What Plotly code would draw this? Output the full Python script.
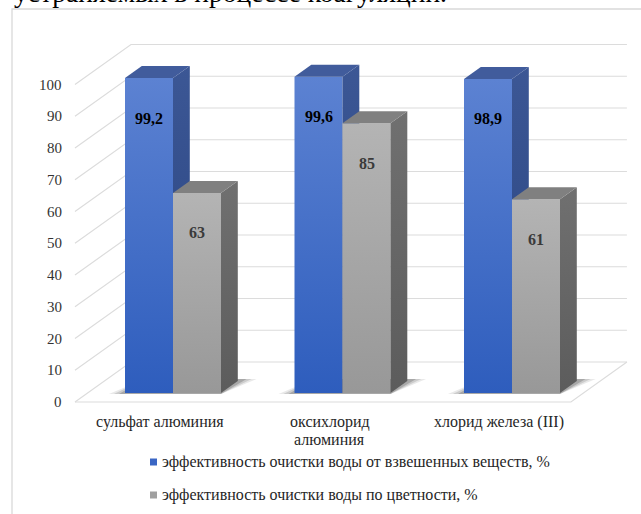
import plotly.graph_objects as go

# ---- data -------------------------------------------------------------
heading = "устраняемых в процессе коагуляции."
categories = ["сульфат алюминия", "оксихлорид\nалюминия", "хлорид железа (III)"]
series_names = [
    "эффективность очистки воды от взвешенных веществ, %",
    "эффективность очистки воды по цветности, %",
]
suspended_solids = [99.2, 99.6, 98.9]
colour_removal = [63, 85, 61]
y_ticks = [0, 10, 20, 30, 40, 50, 60, 70, 80, 90, 100]

# ---- canvas / pseudo-3D geometry ----------------------------------------
W, H = 641, 514
PX_PER_CAT = 169.5      # pixels between category centres
PX_PER_PCT = 3.175      # pixels per percent on the bar plane
ORIGIN_X = 173          # pixel of the first category centre
ORIGIN_Y = 393          # pixel of 0 % on the bar plane
BAR_W = 48 / PX_PER_CAT
BAR_DEPTH = 12          # depth of a bar, in px of vertical rise
D_FRONT, D_BACK = -9, 31
X_LEFT, X_RIGHT = -0.504, 2.422
DX = 1.4 / PX_PER_CAT   # oblique shift per px of depth
DY = 1.0 / PX_PER_PCT


def proj(x, v, d):
    return x + d * DX, v + d * DY


def px_x(n):
    return n / PX_PER_CAT


def px_y(n):
    return n / PX_PER_PCT


def paper_y(px):
    return 1 - px / H


FONT = "Liberation Serif"

styles = [
    dict(front=["#2e5dbd", "#5c82d2"], top="#415c9c", side=["#27427f", "#3c5795"]),
    dict(front=["#989898", "#b4b4b4"], top="#808080", side=["#5c5c5c", "#707070"]),
]
label_colours = ["#000000", "#3a3a3a"]

fig = go.Figure()


def polygon(pts, colour=None, gradient=None):
    xs = [p[0] for p in pts] + [pts[0][0]]
    ys = [p[1] for p in pts] + [pts[0][1]]
    kw = dict(x=xs, y=ys, mode="lines", fill="toself", line=dict(width=0),
              hoverinfo="skip", showlegend=False)
    if gradient:
        kw["fillgradient"] = dict(type="vertical",
                                  colorscale=[[0, gradient[0]], [1, gradient[1]]])
        kw["fillcolor"] = gradient[1]
    else:
        kw["fillcolor"] = colour
    fig.add_trace(go.Scatter(**kw))


# ---- walls: gridlines on the side and back walls, floor edges -------------
gx, gy = [], []
for v in y_ticks:
    for p in (proj(X_LEFT, v, D_FRONT), proj(X_LEFT, v, D_BACK), proj(X_RIGHT, v, D_BACK)):
        gx.append(p[0]); gy.append(p[1])
    gx.append(None); gy.append(None)
for p in (proj(X_LEFT, 0, D_FRONT), proj(X_RIGHT, 0, D_FRONT), proj(X_RIGHT, 0, D_BACK)):
    gx.append(p[0]); gy.append(p[1])
fig.add_trace(go.Scatter(x=gx, y=gy, mode="lines", line=dict(color="#dcdcdc", width=1.2),
                         hoverinfo="skip", showlegend=False))

# ---- soft floor shadows under each pair of bars ----------------------------
for i in range(len(categories)):
    xl, xr = i - BAR_W, i + BAR_W
    for spread, alpha in ((16, 0.10), (11, 0.15), (6, 0.22)):
        a = proj(xl, 0, 0); a = (a[0] - px_x(spread), a[1] - px_y(1))
        b = proj(xr, 0, 0); b = (b[0], b[1] - px_y(1))
        c = proj(xr, 0, BAR_DEPTH + 2); c = (c[0] + px_x(spread), c[1])
        d = proj(xl, 0, BAR_DEPTH + 2)
        polygon([a, b, c, d], colour=f"rgba(40,40,40,{alpha})")

# ---- bars ---------------------------------------------------------------
series_values = [suspended_solids, colour_removal]
for i in range(len(categories)):
    for s, values in enumerate(series_values):
        v = values[i]
        st = styles[s]
        x0 = i + (s - 1) * BAR_W
        x1 = x0 + BAR_W
        polygon([(x0, 0), (x1, 0), (x1, v), (x0, v)], gradient=st["front"])
        polygon([(x1, 0), proj(x1, 0, BAR_DEPTH), proj(x1, v, BAR_DEPTH), (x1, v)],
                gradient=st["side"])
        polygon([(x0, v), (x1, v), proj(x1, v, BAR_DEPTH), proj(x0, v, BAR_DEPTH)],
                colour=st["top"])

annotations = []

# value labels inside the front faces
for i in range(len(categories)):
    for s, values in enumerate(series_values):
        v = values[i]
        xc = i + (s - 0.5) * BAR_W
        annotations.append(dict(
            x=xc, y=v, xref="x", yref="y", text=f"<b>{v:g}</b>".replace(".", ","),
            showarrow=False, yanchor="middle", yshift=-40,
            font=dict(family=FONT, size=16, color=label_colours[s])))

# value-axis labels along the front edge of the side wall
for v in y_ticks:
    px_, py_ = proj(X_LEFT, v, D_FRONT)
    annotations.append(dict(
        x=px_, y=py_, xref="x", yref="y", text=str(v), showarrow=False,
        xanchor="right", yanchor="middle", xshift=-11,
        font=dict(family=FONT, size=15, color="#333333")))

# category labels under the floor
for i, name in enumerate(categories):
    cx = proj(i, 0, D_FRONT)[0]
    for k, line in enumerate(name.split("\n")):
        annotations.append(dict(
            x=cx, y=paper_y(422 + 17 * k), xref="x", yref="paper", text=line,
            showarrow=False, xanchor="center", yanchor="middle",
            font=dict(family=FONT, size=16, color="#262626")))

# legend
legend_colours = ["#3a66c4", "#a0a0a0"]
shapes = []
for k, name in enumerate(series_names):
    yc = 462 + 33 * k
    shapes.append(dict(type="rect", xref="paper", yref="paper",
                       x0=150 / W, x1=157 / W, y0=paper_y(yc + 3.5), y1=paper_y(yc - 3.5),
                       fillcolor=legend_colours[k], line=dict(width=0)))
    annotations.append(dict(
        x=160 / W, y=paper_y(yc), xref="paper", yref="paper", text=name,
        showarrow=False, xanchor="left", yanchor="middle",
        font=dict(family=FONT, size=16, color="#262626")))

# outer chart frame
shapes.append(dict(type="rect", xref="paper", yref="paper", layer="below",
                   x0=12 / W, x1=1.02, y0=-0.02, y1=paper_y(9),
                   line=dict(color="#d9d9d9", width=1.3), fillcolor="rgba(0,0,0,0)"))

# running text line above the chart
annotations.append(dict(
    x=12 / W, y=paper_y(-7.5), xref="paper", yref="paper", text=heading,
    showarrow=False, xanchor="left", yanchor="middle",
    font=dict(family=FONT, size=27.5, color="#000000")))

fig.update_layout(
    width=W, height=H,
    margin=dict(l=0, r=0, t=0, b=0),
    paper_bgcolor="white", plot_bgcolor="white",
    xaxis=dict(range=[-ORIGIN_X / PX_PER_CAT, (W - ORIGIN_X) / PX_PER_CAT],
               visible=False, fixedrange=True),
    yaxis=dict(range=[(ORIGIN_Y - H) / PX_PER_PCT, ORIGIN_Y / PX_PER_PCT],
               visible=False, fixedrange=True),
    annotations=annotations,
    shapes=shapes,
    showlegend=False,
)

fig.write_html("out.html")
